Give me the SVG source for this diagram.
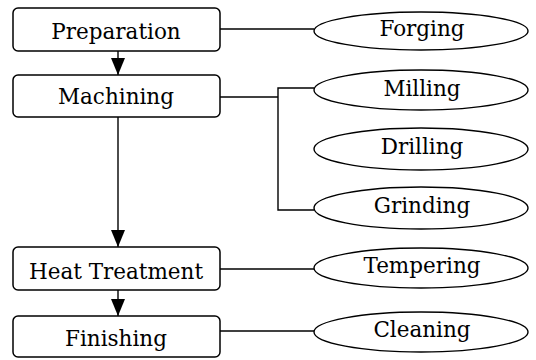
<svg xmlns="http://www.w3.org/2000/svg" width="536" height="360" viewBox="0 0 536 360">
<defs>
<style>
.box{fill:#fff;stroke:#000;stroke-width:1.5}
.ell{fill:#fff;stroke:#000;stroke-width:1.4}
.lbl{font-family:"DejaVu Serif","Liberation Serif",serif;font-size:21.5px;text-anchor:middle;fill:#000}
.ln{fill:none;stroke:#000;stroke-width:1.4}
</style>
<marker id="ah" viewBox="0 0 17 14" refX="17" refY="7" markerWidth="17" markerHeight="14" markerUnits="userSpaceOnUse" orient="auto">
<path d="M0,0 L17,7 L0,14 Z" fill="#000"/>
</marker>
</defs>
<rect width="536" height="360" fill="#fff"/>
<g id="connectors">
<line class="ln" x1="118" y1="51" x2="118" y2="75" marker-end="url(#ah)"/>
<line class="ln" x1="118" y1="117" x2="118" y2="247" marker-end="url(#ah)"/>
<line class="ln" x1="118" y1="290" x2="118" y2="316" marker-end="url(#ah)"/>
<line class="ln" x1="220" y1="29" x2="314" y2="29"/>
<polyline class="ln" points="220,97 278,97"/>
<polyline class="ln" points="314,88 278,88 278,210 314,210"/>
<line class="ln" x1="220" y1="269" x2="314" y2="269"/>
<line class="ln" x1="220" y1="331" x2="314" y2="331"/>
</g>
<g id="preparation"><rect class="box" x="13" y="8" width="207" height="43" rx="5"/><text class="lbl" x="116" y="39">Preparation</text></g>
<g id="machining"><rect class="box" x="13" y="75" width="207" height="42" rx="5"/><text class="lbl" x="116" y="104">Machining</text></g>
<g id="heat-treatment"><rect class="box" x="13" y="247" width="207" height="43" rx="5"/><text class="lbl" x="116" y="279">Heat Treatment</text></g>
<g id="finishing"><rect class="box" x="13" y="316" width="207" height="41" rx="5"/><text class="lbl" x="116" y="346">Finishing</text></g>
<g id="forging"><ellipse class="ell" cx="421" cy="31" rx="107" ry="19"/><text class="lbl" x="422" y="36">Forging</text></g>
<g id="milling"><ellipse class="ell" cx="421" cy="90" rx="107" ry="20"/><text class="lbl" x="422" y="96">Milling</text></g>
<g id="drilling"><ellipse class="ell" cx="421" cy="149" rx="107" ry="21"/><text class="lbl" x="422" y="154">Drilling</text></g>
<g id="grinding"><ellipse class="ell" cx="421" cy="208" rx="107" ry="21"/><text class="lbl" x="422" y="213">Grinding</text></g>
<g id="tempering"><ellipse class="ell" cx="421" cy="268" rx="107" ry="20"/><text class="lbl" x="422" y="273">Tempering</text></g>
<g id="cleaning"><ellipse class="ell" cx="421" cy="332" rx="107" ry="20"/><text class="lbl" x="422" y="337">Cleaning</text></g>
</svg>
